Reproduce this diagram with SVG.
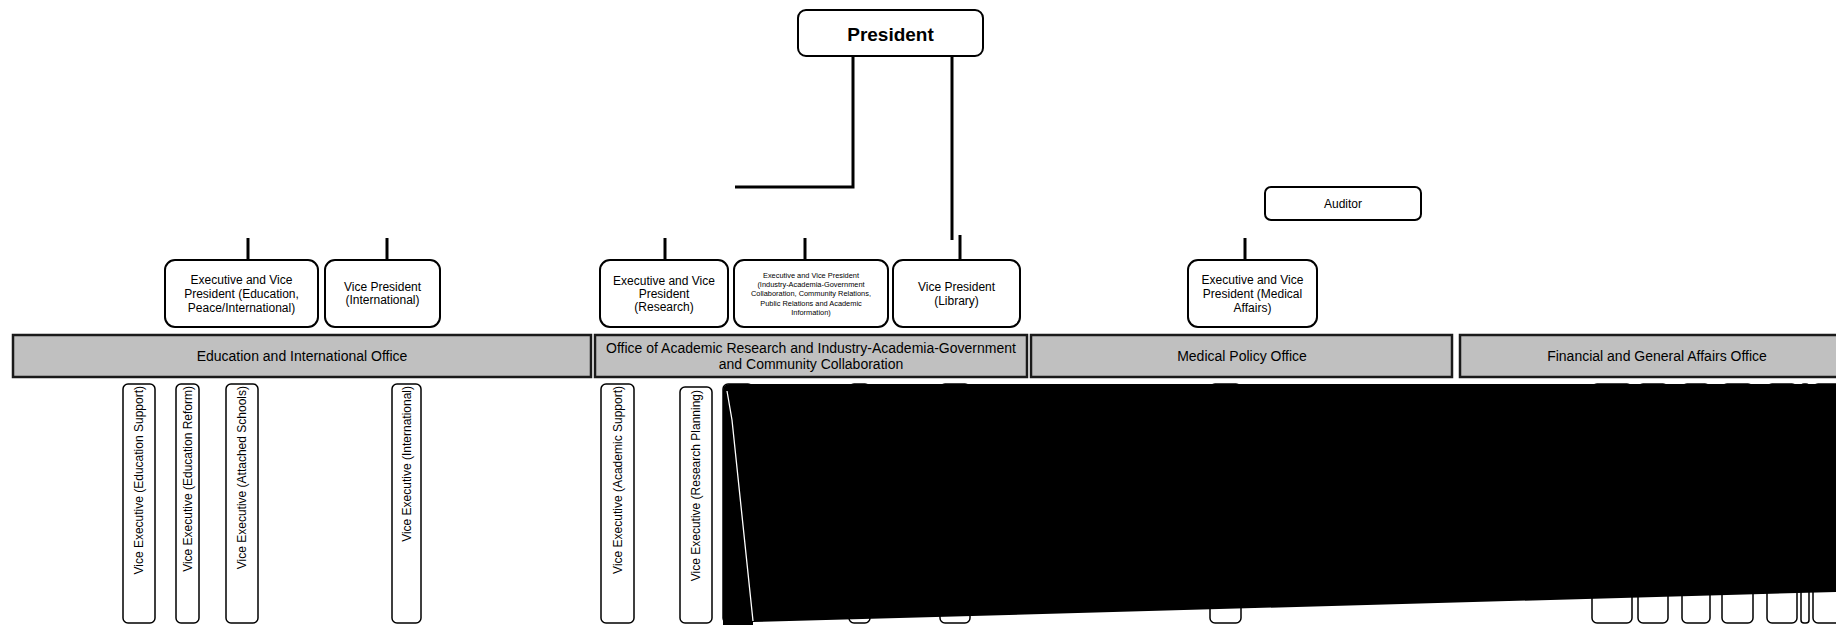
<svg xmlns="http://www.w3.org/2000/svg" width="1836" height="625" viewBox="0 0 1836 625">
<defs>
<style>
text{font-family:"Liberation Sans",Arial,sans-serif;fill:#000}
.box{fill:#fff;stroke:#000;stroke-width:2}
.bar{fill:#c0c0c0;stroke:#1a1a1a;stroke-width:2.5}
.vbox{fill:#fff;stroke:#000;stroke-width:1.5}
.t12{font-size:12px;text-anchor:middle}
.t7{font-size:7.4px;text-anchor:middle}
.t14{font-size:14px;text-anchor:middle}
.vt{font-size:12px;text-anchor:end}
.ln{stroke:#000;stroke-width:3;fill:none}
</style>
</defs>
<rect width="1836" height="625" fill="#fff"/>

<g id="connectors">
<path class="ln" d="M853,57 V187 H735"/>
<path class="ln" d="M952,57 V240"/>
<path class="ln" d="M248,238 V260"/>
<path class="ln" d="M387,238 V260"/>
<path class="ln" d="M665,238 V260"/>
<path class="ln" d="M805,238 V260"/>
<path class="ln" d="M960,235 V260"/>
<path class="ln" d="M1245,238 V260"/>
</g>

<g id="president">
<rect class="box" x="798" y="10" width="185" height="46" rx="8" stroke-width="2.5"/>
<text x="890.5" y="41" font-size="19" font-weight="bold" text-anchor="middle">President</text>
</g>

<g id="auditor">
<rect class="box" x="1265" y="187" width="156" height="33" rx="6"/>
<text class="t12" x="1343" y="208">Auditor</text>
</g>

<g id="evp-education">
<rect class="box" x="165" y="260" width="153" height="67" rx="10"/>
<text class="t12" x="241.5" y="284">Executive and Vice</text>
<text class="t12" x="241.5" y="298">President (Education,</text>
<text class="t12" x="241.5" y="312">Peace/International)</text>
</g>

<g id="vp-international">
<rect class="box" x="325" y="260" width="115" height="67" rx="10"/>
<text class="t12" x="382.5" y="291">Vice President</text>
<text class="t12" x="382.5" y="304">(International)</text>
</g>

<g id="evp-research">
<rect class="box" x="600" y="260" width="128" height="67" rx="10"/>
<text class="t12" x="664" y="285">Executive and Vice</text>
<text class="t12" x="664" y="298">President</text>
<text class="t12" x="664" y="311">(Research)</text>
</g>

<g id="evp-industry">
<rect class="box" x="734" y="260" width="154" height="67" rx="10"/>
<text class="t7" x="811" y="278">Executive and Vice President</text>
<text class="t7" x="811" y="287">(Industry-Academia-Government</text>
<text class="t7" x="811" y="296">Collaboration, Community Relations,</text>
<text class="t7" x="811" y="306">Public Relations and Academic</text>
<text class="t7" x="811" y="315">Information)</text>
</g>

<g id="vp-library">
<rect class="box" x="893" y="260" width="127" height="67" rx="10"/>
<text class="t12" x="956.5" y="291">Vice President</text>
<text class="t12" x="956.5" y="305">(Library)</text>
</g>

<g id="evp-medical">
<rect class="box" x="1188" y="260" width="129" height="67" rx="10"/>
<text class="t12" x="1252.5" y="284">Executive and Vice</text>
<text class="t12" x="1252.5" y="298">President (Medical</text>
<text class="t12" x="1252.5" y="312">Affairs)</text>
</g>

<g id="office-education">
<rect class="bar" x="13" y="335" width="578" height="42"/>
<text class="t14" x="302" y="361">Education and International Office</text>
</g>

<g id="office-research">
<rect class="bar" x="595" y="335" width="432" height="42"/>
<text class="t14" x="811" y="353">Office of Academic Research and Industry-Academia-Government</text>
<text class="t14" x="811" y="369">and Community Collaboration</text>
</g>

<g id="office-medical">
<rect class="bar" x="1031" y="335" width="421" height="42"/>
<text class="t14" x="1242" y="361">Medical Policy Office</text>
</g>

<g id="office-financial">
<rect class="bar" x="1460" y="335" width="396" height="42"/>
<text class="t14" x="1657" y="361">Financial and General Affairs Office</text>
</g>

<g id="ve-education-support">
<rect class="vbox" x="123" y="384" width="32" height="239" rx="5"/>
<text class="vt" transform="translate(143.3,386) rotate(-90)">Vice Executive (Education Support)</text>
</g>
<g id="ve-education-reform">
<rect class="vbox" x="176" y="384" width="23" height="239" rx="5"/>
<text class="vt" transform="translate(191.8,386) rotate(-90)">Vice Executive (Education Reform)</text>
</g>
<g id="ve-attached-schools">
<rect class="vbox" x="226" y="384" width="32" height="239" rx="5"/>
<text class="vt" transform="translate(246.3,386) rotate(-90)">Vice Executive (Attached Schools)</text>
</g>
<g id="ve-international">
<rect class="vbox" x="392" y="384" width="29" height="239" rx="5"/>
<text class="vt" transform="translate(410.8,386) rotate(-90)">Vice Executive (International)</text>
</g>
<g id="ve-academic-support">
<rect class="vbox" x="601" y="384" width="33" height="239" rx="5"/>
<text class="vt" transform="translate(621.8,386) rotate(-90)">Vice Executive (Academic Support)</text>
</g>
<g id="ve-research-planning">
<rect class="vbox" x="680" y="387" width="32" height="236" rx="5"/>
<text class="vt" transform="translate(700.3,390) rotate(-90)">Vice Executive (Research Planning)</text>
</g>

<g id="hidden-boxes">
<rect class="vbox" x="723" y="384" width="30" height="239" rx="5"/>
<rect class="vbox" x="849" y="384" width="21" height="239" rx="5"/>
<rect class="vbox" x="940" y="384" width="30" height="239" rx="5"/>
<rect class="vbox" x="1210" y="384" width="31" height="239" rx="5"/>
<rect class="vbox" x="1592" y="384" width="40" height="239" rx="5"/>
<rect class="vbox" x="1638" y="384" width="30" height="239" rx="5"/>
<rect class="vbox" x="1682" y="384" width="28" height="239" rx="5"/>
<rect class="vbox" x="1722" y="384" width="31" height="239" rx="5"/>
<rect class="vbox" x="1767" y="384" width="30" height="239" rx="5"/>
<rect class="vbox" x="1801" y="384" width="8" height="239" rx="3"/>
<rect class="vbox" x="1813" y="384" width="30" height="239" rx="5"/>
</g>

<g id="black-fill">
<path d="M723,391 Q723,384 730,384 L1836,384 L1836,592 L753,622 L753,625 L723,625 Z" fill="#000"/>
<path d="M727,391 L732,420 L753,621" stroke="#fff" stroke-width="1.3" fill="none"/>
</g>
</svg>
